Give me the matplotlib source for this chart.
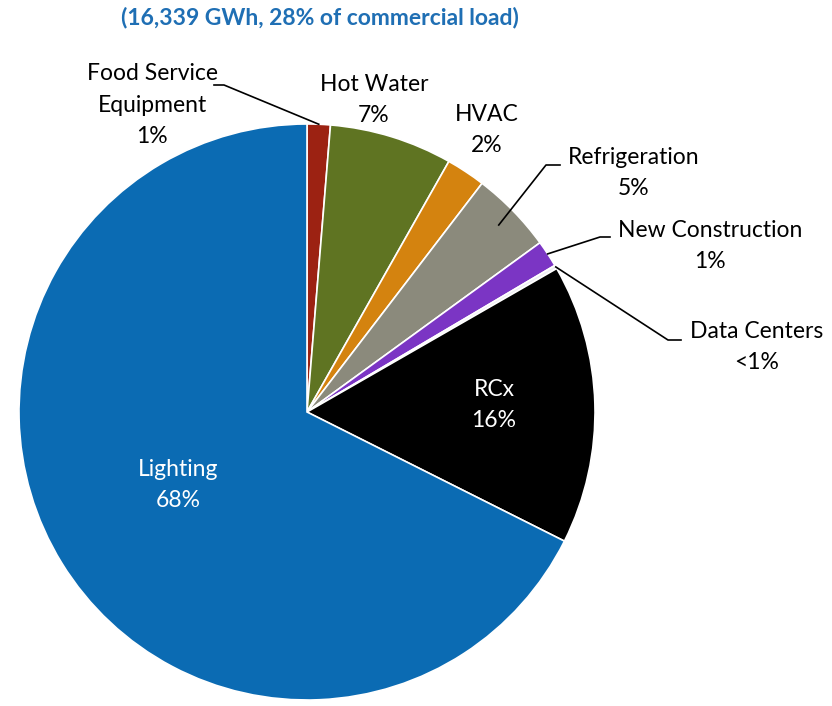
import numpy as np
import matplotlib.pyplot as plt

plt.rcParams['font.family'] = ['Lato', 'DejaVu Sans']

categories = ['Food Service\nEquipment', 'Hot Water', 'HVAC', 'Refrigeration',
              'New Construction', 'Data Centers', 'RCx', 'Lighting']
shares = [1.3, 6.9, 2.2, 4.6, 1.5, 0.2, 15.7, 67.6]
pct_labels = ['1%', '7%', '2%', '5%', '1%', '<1%', '16%', '68%']
colors = ['#9c2212', '#5f7422', '#d4830f', '#8b8a7c', '#7b35c4', '#eeeef4',
          '#000000', '#0b6bb3']
title = '(16,339 GWh, 28% of commercial load)'

W, H = 832, 706
cx, cy, R = 307, 412, 288


def px(x, y):
    # pixel position -> data coords (pie centre at origin, radius 1)
    return (x - cx) / R, (cy - y) / R


fig = plt.figure(figsize=(W / 100, H / 100), dpi=100)
ax = fig.add_axes([0, 0, 1, 1])
wedges, _ = ax.pie(shares, colors=colors, startangle=90, counterclock=False,
                   radius=1, wedgeprops=dict(edgecolor='white', linewidth=1.2))
ax.set_xlim(-cx / R, (W - cx) / R)
ax.set_ylim((cy - H) / R, cy / R)
ax.axis('off')

fs = 16.5
# label positions (pixel centres) for each slice
label_pos = [(152, 105), (374, 100), (487, 130), (634, 173), (710, 246),
             (757, 347), (494, 405), (178, 485)]
for i, (name, pct) in enumerate(zip(categories, pct_labels)):
    x, y = px(*label_pos[i])
    col = 'white' if name in ('RCx', 'Lighting') else 'black'
    ax.text(x, y, name + '\n' + pct, ha='center', va='center', fontsize=fs,
            color=col, linespacing=1.6)


def rim(w, frac=0.5, r=1.0):
    a = np.deg2rad(w.theta1 + (w.theta2 - w.theta1) * frac)
    return r * np.cos(a), r * np.sin(a)


# leader lines: (wedge index, elbow pixel, end pixel)
leaders = [(0, (224, 85), (214, 85)),
           (3, (560, 165), (546, 165)),
           (4, (610, 237), (600, 237)),
           (5, (668, 340), (681, 340))]
for i, p_end, p_elb in leaders:
    x0, y0 = rim(wedges[i], r=1.0)
    if i == 0:
        xe, ye = px(*p_elb)
        xb, yb = px(*p_end)
        ax.plot([xe, xb, x0], [ye, yb, y0], color='black', lw=1.2)
    elif i == 5:
        xb, yb = px(*p_end)
        xe, ye = px(*p_elb)
        ax.plot([x0, xb, xe], [y0, yb, ye], color='black', lw=1.2)
    else:
        xe, ye = px(*p_end)
        xb, yb = px(*p_elb)
        x0, y0 = rim(wedges[i], r=1.0 if i == 4 else 0.93)
        ax.plot([xe, xb, x0], [ye, yb, y0], color='black', lw=1.2)

tx, ty = px(320, 18)
ax.text(tx, ty, title, ha='center', va='center', fontsize=16.5,
        fontweight='bold', color='#1f6fb4')

fig.savefig('out.png', dpi=100)
